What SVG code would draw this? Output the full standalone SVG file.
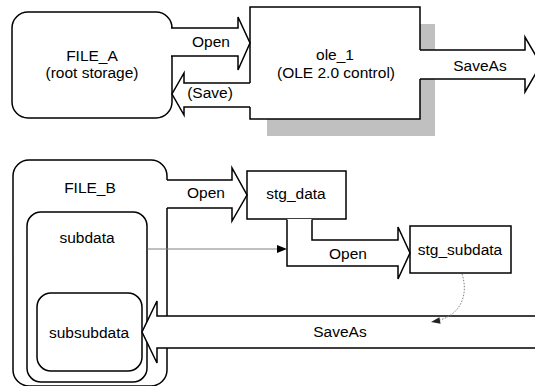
<svg xmlns="http://www.w3.org/2000/svg" width="535" height="386" viewBox="0 0 535 386">
<defs>
<style>
.box{fill:#fff;stroke:#000;stroke-width:1.5}
.af{fill:#fff;stroke:none}
.as{fill:none;stroke:#000;stroke-width:1.5;stroke-linejoin:miter}
text{font-family:"Liberation Sans",Arial,sans-serif;font-size:15.5px;fill:#000;text-anchor:middle}
</style>
</defs>
<rect width="535" height="386" fill="#fff"/>
<g id="ole_1_shadow"><rect x="267" y="24" width="168" height="112" fill="#c0c0c0"/></g>
<g id="FILE_A"><rect class="box" x="12" y="12" width="160" height="106" rx="16"/>
<text x="92" y="61">FILE_A</text><text x="92" y="78">(root storage)</text></g>
<g id="ole_1"><rect class="box" x="250" y="7" width="170" height="112"/>
<text x="335" y="60">ole_1</text><text x="336" y="78">(OLE 2.0 control)</text></g>
<g id="FILE_B"><rect class="box" x="13" y="160" width="154" height="226" rx="16"/>
<text x="90" y="193">FILE_B</text></g>
<g id="subdata"><rect class="box" x="27" y="212" width="120" height="170" rx="14"/>
<text x="87" y="243">subdata</text></g>
<g id="subsubdata"><rect class="box" x="37" y="293" width="105" height="78" rx="14"/>
<text x="89" y="338">subsubdata</text></g>
<g id="stg_data"><rect class="box" x="247" y="171" width="99" height="48"/>
<text x="296" y="199">stg_data</text></g>
<g id="stg_subdata"><rect class="box" x="410" y="226" width="101" height="47"/>
<text x="460" y="255">stg_subdata</text></g>
<g id="connectors">
<g id="open_a">
<polygon class="af" points="170,28 238,28 238,17 250,43 238,70 238,56 170,56"/>
<polyline class="as" points="171,28 238,28 238,17 250,43 238,70 238,56 171,56"/>
<text x="211" y="47">Open</text></g>
<g id="save_a">
<polygon class="af" points="252,83 184,83 184,73 172,94 184,115 184,107 252,107"/>
<polyline class="as" points="250,83 184,83 184,73 172,94 184,115 184,107 250,107"/>
<text x="210" y="98">(Save)</text></g>
<g id="saveas_a">
<polygon class="af" points="419,50 525,50 525,37 541,64.5 525,92 525,79 419,79"/>
<polyline class="as" points="420,50 525,50 525,37 541,64.5 525,92 525,79 420,79"/>
<text x="480" y="71">SaveAs</text></g>
<g id="open_b">
<polygon class="af" points="166,180 232,180 232,168 247,195 232,221 232,208 166,208"/>
<polyline class="as" points="167,180 232,180 232,168 247,195 232,221 232,208 167,208"/>
<text x="206" y="198">Open</text></g>
<g id="open_c">
<polygon class="af" points="287,219 287,266 398,266 398,279 410,253 398,227 398,240 312,240 312,219"/>
<polyline class="as" points="287,219.5 287,266 398,266 398,279 410,253 398,227 398,240 312,240 312,219.5"/>
<text x="348" y="259">Open</text></g>
<g id="link">
<line x1="147.5" y1="249" x2="278" y2="249" stroke="#808080" stroke-width="1"/>
<polygon points="277,245 287,249 277,253" fill="#000"/></g>
<g id="saveas_b">
<polygon class="af" points="540,316 157,316 157,301 142,332 157,363 157,348 540,348"/>
<polyline class="as" points="540,316 157,316 157,301 142,332 157,363 157,348 540,348"/>
<text x="340" y="337">SaveAs</text></g>
<g id="dotted">
<path d="M462,274 C468,292 463,313 440,320" fill="none" stroke="#808080" stroke-width="1" stroke-dasharray="1.5 1.5"/>
<polygon points="431,322 439.4,317.3 440.6,323.8" fill="#222"/></g>
</g>
</svg>
